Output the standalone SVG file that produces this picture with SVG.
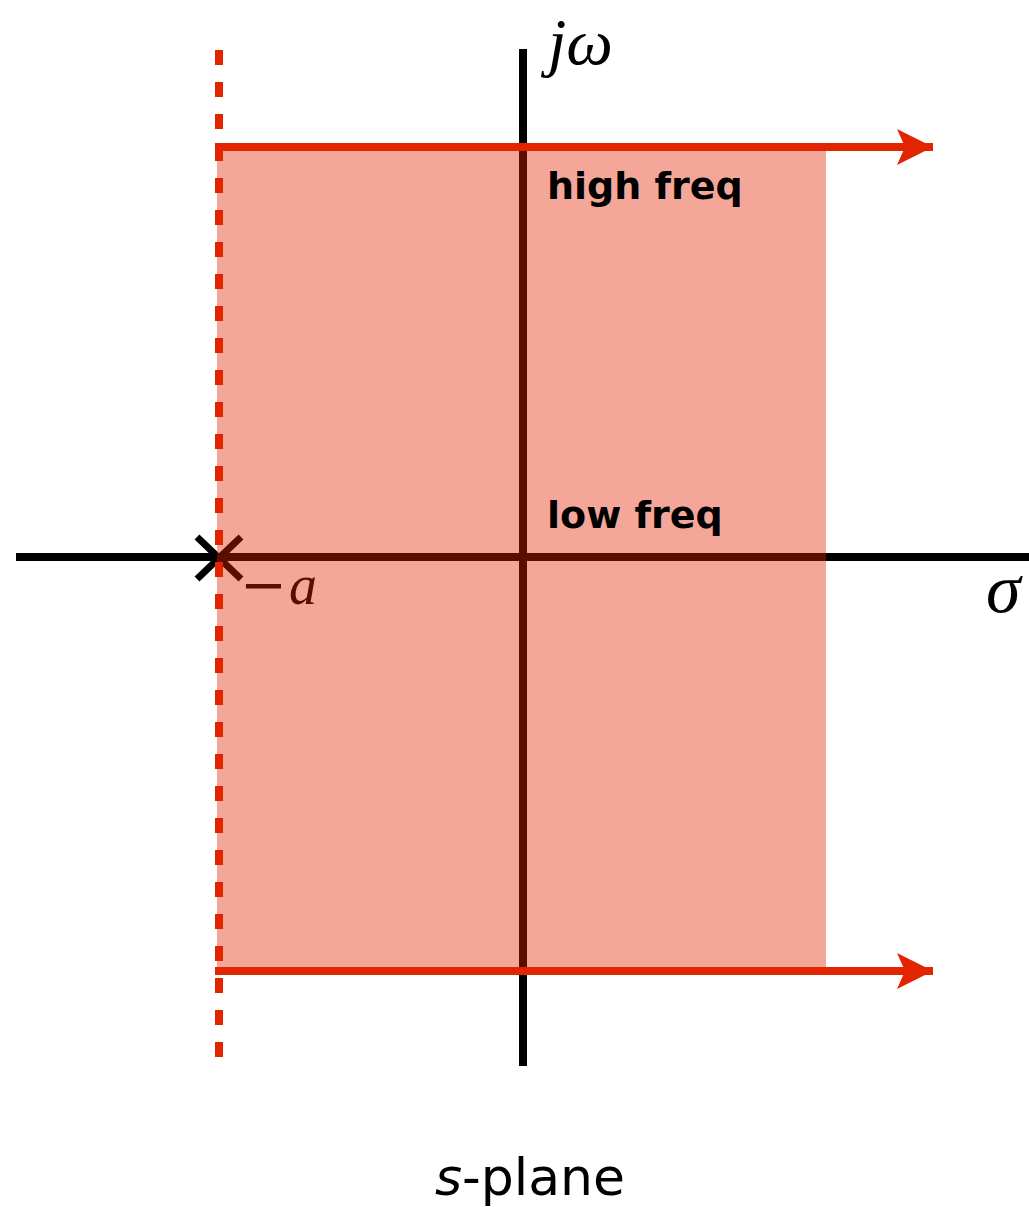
<svg xmlns="http://www.w3.org/2000/svg" width="1029" height="1207" viewBox="0 0 1029 1207">
<style>
.axis{stroke:#000;stroke-width:8;fill:none}
.red{stroke:#e32400;stroke-width:8;fill:none}
.math{font-family:"Liberation Serif","DejaVu Serif",serif;font-style:italic}
.lbl{font-family:"DejaVu Sans","Liberation Sans",sans-serif;font-weight:bold;font-size:38px;fill:#000}
</style>
<defs>
<marker id="arr" markerUnits="userSpaceOnUse" markerWidth="40" markerHeight="40" refX="36" refY="18" orient="auto">
<path d="M0,0 L36,18 L0,36 L8,18 Z" fill="#e32400"/>
</marker>
</defs>
<rect width="1029" height="1207" fill="#fff"/>
<g id="axes">
<line class="axis" x1="16" y1="557" x2="1029" y2="557"/>
<line class="axis" x1="523" y1="49" x2="523" y2="1066"/>
<path id="pole" d="M197,537 L241,579 M241,537 L197,579" stroke="#000" stroke-width="7"/>
<text x="240" y="604" font-size="56" fill="#000"><tspan font-family="DejaVu Serif,serif">−</tspan><tspan class="math" dx="2">a</tspan></text>
</g>
<rect id="region" x="217" y="147" width="609" height="823" fill="#e32400" fill-opacity="0.4"/>
<g id="connectors">
<line class="red" x1="219" y1="50" x2="219" y2="1060" stroke-dasharray="15 17"/>
<line class="red" x1="215" y1="147" x2="933" y2="147" marker-end="url(#arr)"/>
<line class="red" x1="215" y1="971" x2="933" y2="971" marker-end="url(#arr)"/>
</g>
<g id="labels">
<text class="math" x="548" y="64" font-size="66">jω</text>
<text class="lbl" x="547" y="199">high freq</text>
<text class="lbl" x="547" y="528">low freq</text>
<text class="math" x="986" y="612" font-size="70">σ</text>
<text x="530" y="1195" font-size="52" text-anchor="middle" font-family="DejaVu Sans,Liberation Sans,sans-serif"><tspan font-style="italic">s</tspan>-plane</text>
</g>
</svg>
